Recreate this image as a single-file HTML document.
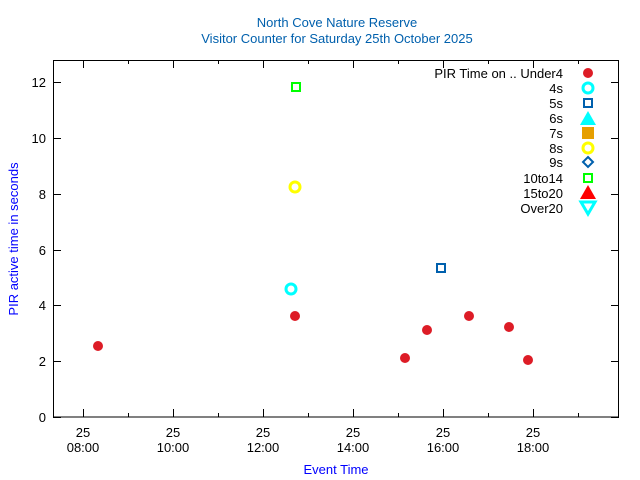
<!DOCTYPE html>
<html><head><style>body{margin:0;background:#fff}svg{display:block}</style></head><body>
<svg width="640" height="480" xmlns="http://www.w3.org/2000/svg" font-family="Liberation Sans, sans-serif" font-size="13">
<rect width="640" height="480" fill="#fff"/>
<text x="337" y="27" text-anchor="middle" fill="#0060ad" font-size="13">North Cove Nature Reserve</text>
<text x="337" y="43" text-anchor="middle" fill="#0060ad" font-size="13">Visitor Counter for Saturday 25th October 2025</text>
<rect x="53.5" y="60.5" width="565" height="356.5" fill="none" stroke="#000" stroke-width="1"/>
<g stroke="#000" stroke-width="1">
<path d="M53 417.5h8M53 361.5h8M53 305.5h8M53 250.5h8M53 194.5h8M53 138.5h8M53 82.5h8"/>
<path d="M619 417.5h-8M619 361.5h-8M619 305.5h-8M619 250.5h-8M619 194.5h-8M619 138.5h-8M619 82.5h-8"/>
<path d="M83.5 417v-8M173.5 417v-8M263.5 417v-8M353.5 417v-8M443.5 417v-8M533.5 417v-8"/>
<path d="M128.5 417v-4M218.5 417v-4M308.5 417v-4M398.5 417v-4M488.5 417v-4M578.5 417v-4"/>
<path d="M83.5 60v8M173.5 60v8M263.5 60v8M353.5 60v8M443.5 60v8M533.5 60v8"/>
<path d="M128.5 60v4M218.5 60v4M308.5 60v4M398.5 60v4M488.5 60v4M578.5 60v4"/>
</g>
<g text-anchor="end" fill="#000">
<text x="46" y="422">0</text><text x="46" y="366">2</text><text x="46" y="310">4</text><text x="46" y="255">6</text><text x="46" y="199">8</text><text x="46" y="143">10</text><text x="46" y="87">12</text>
</g>
<g text-anchor="middle" fill="#000">
<text x="83" y="437">25</text><text x="83" y="452">08:00</text>
<text x="173" y="437">25</text><text x="173" y="452">10:00</text>
<text x="263" y="437">25</text><text x="263" y="452">12:00</text>
<text x="353" y="437">25</text><text x="353" y="452">14:00</text>
<text x="443" y="437">25</text><text x="443" y="452">16:00</text>
<text x="533" y="437">25</text><text x="533" y="452">18:00</text>
</g>
<text x="336" y="474" text-anchor="middle" fill="#0000ff">Event Time</text>
<text transform="translate(18,239) rotate(-90)" text-anchor="middle" fill="#0000ff">PIR active time in seconds</text>
<g fill="#dd1c26">
<circle cx="98" cy="346" r="5"/><circle cx="295" cy="316" r="5"/><circle cx="405" cy="358" r="5"/><circle cx="427" cy="330" r="5"/><circle cx="469" cy="316" r="5"/><circle cx="509" cy="327" r="5"/><circle cx="528" cy="360" r="5"/>
</g>
<circle cx="291" cy="289" r="5" fill="none" stroke="#00ffff" stroke-width="3"/>
<circle cx="295" cy="187" r="5" fill="none" stroke="#ffff00" stroke-width="3"/>
<rect x="437" y="264" width="8" height="8" fill="none" stroke="#0060ad" stroke-width="2"/>
<rect x="292" y="83" width="8" height="8" fill="none" stroke="#00ff00" stroke-width="2"/>
<g text-anchor="end" fill="#000">
<text x="563" y="78">PIR Time on .. Under4</text><text x="563" y="93">4s</text><text x="563" y="108">5s</text><text x="563" y="123">6s</text><text x="563" y="138">7s</text><text x="563" y="153">8s</text><text x="563" y="167">9s</text><text x="563" y="183">10to14</text><text x="563" y="198">15to20</text><text x="563" y="213">Over20</text>
</g>
<circle cx="588" cy="73" r="5" fill="#dd1c26"/>
<circle cx="588" cy="88" r="5" fill="none" stroke="#00ffff" stroke-width="3"/>
<rect x="584" y="99" width="8" height="8" fill="none" stroke="#0060ad" stroke-width="2"/>
<path d="M588 111l8 14h-16z" fill="#00ffff"/>
<rect x="582" y="127" width="12" height="12" fill="#e69f00"/>
<circle cx="588" cy="148" r="5" fill="none" stroke="#ffff00" stroke-width="3"/>
<path d="M588 157l5 5-5 5-5-5z" fill="none" stroke="#0060ad" stroke-width="2"/>
<rect x="584" y="174" width="8" height="8" fill="none" stroke="#00ff00" stroke-width="2"/>
<path d="M588 185l8 14h-16z" fill="#ff0000"/>
<path d="M581 202h14l-7 12z" fill="none" stroke="#00ffff" stroke-width="3"/>
</svg>
</body></html>
